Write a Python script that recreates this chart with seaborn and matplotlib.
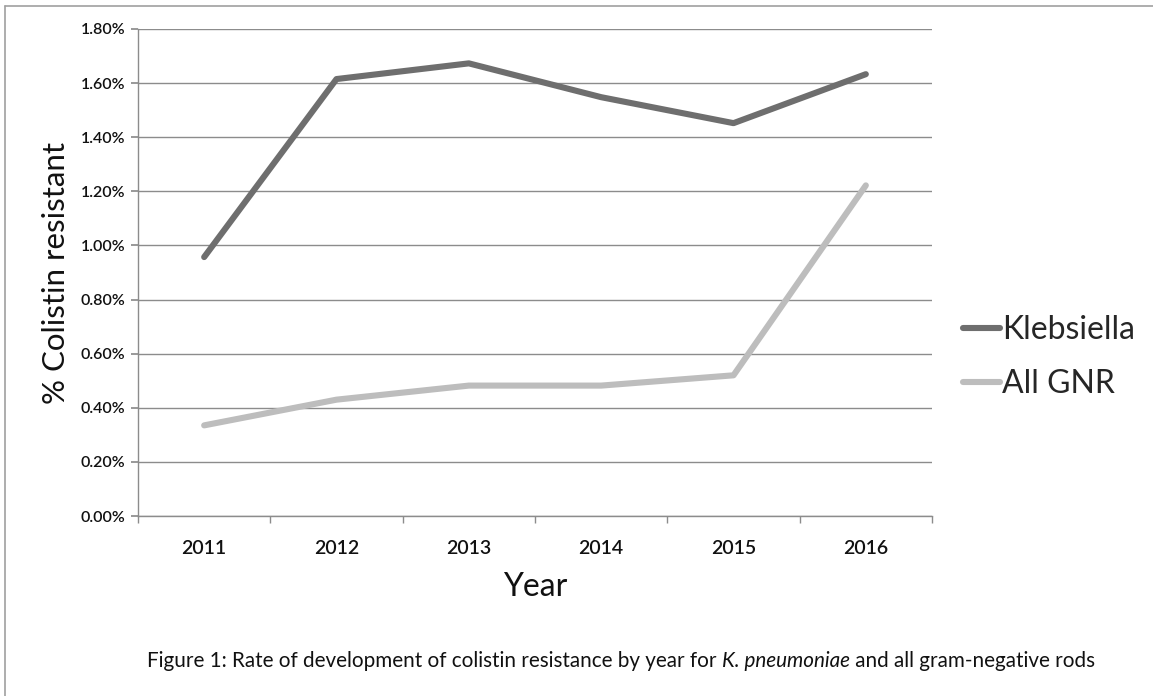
import matplotlib
matplotlib.use("Agg")
import matplotlib.pyplot as plt
import matplotlib.ticker as mticker
from matplotlib.lines import Line2D
import seaborn as sns
import pandas as pd

years = ["2011", "2012", "2013", "2014", "2015", "2016"]
klebsiella = [0.00957, 0.01615, 0.01673, 0.01548, 0.01452, 0.01633]
all_gnr = [0.00335, 0.00430, 0.00482, 0.00482, 0.00520, 0.01222]
series_names = ["Klebsiella", "All GNR"]
colors = {"Klebsiella": "#6e6e6e", "All GNR": "#bdbdbd"}
caption_parts = ["Figure 1: Rate of development of colistin resistance by year for ",
                 "K. pneumoniae", " and all gram-negative rods"]

df = pd.DataFrame({
    "Year": years * 2,
    "value": klebsiella + all_gnr,
    "series": [series_names[0]] * len(years) + [series_names[1]] * len(years),
})

sns.set_theme(style="white")
plt.rcParams["font.family"] = ["Lato", "DejaVu Sans"]

fig = plt.figure(figsize=(11.53, 6.96), dpi=100)
ax = fig.add_axes([138 / 1153, 1 - 516 / 696, (932 - 138) / 1153, (516 - 29) / 696])

sns.lineplot(data=df, x="Year", y="value", hue="series", palette=colors,
             linewidth=4.4, ax=ax, legend=False, sort=False)
for ln in ax.lines:
    ln.set_solid_capstyle("round")
    ln.set_solid_joinstyle("round")

ax.set_xlim(-0.5, len(years) - 0.5)
ax.set_ylim(0, 0.018)
ax.set_yticks([i * 0.002 for i in range(10)])
ax.yaxis.set_major_formatter(mticker.FuncFormatter(lambda v, p: f"{v*100:.2f}%"))
ax.set_xticks(range(len(years)))
ax.set_xticklabels(years)
ax.set_xticks([i - 0.5 for i in range(len(years) + 1)], minor=True)

ax.grid(axis="y", color="#8c8c8c", linewidth=1.0)
ax.set_axisbelow(True)
for s in ["top", "right"]:
    ax.spines[s].set_visible(False)
for s in ["left", "bottom"]:
    ax.spines[s].set_color("#8c8c8c")
    ax.spines[s].set_linewidth(1.0)

ax.tick_params(axis="y", which="major", left=True, length=5, color="#8c8c8c",
               labelsize=11.5, pad=4, labelcolor="#111111")
ax.tick_params(axis="x", which="major", bottom=False, labelsize=14, pad=11,
               labelcolor="#111111")
ax.tick_params(axis="x", which="minor", bottom=True, length=5, color="#8c8c8c")
for lab in ax.get_xticklabels() + ax.get_yticklabels():
    lab.set_fontweight("semibold")

ax.set_xlabel("Year", fontsize=23, labelpad=11, color="#111111")
ax.set_ylabel("% Colistin resistant", fontsize=22.5, labelpad=8, color="#111111")

handles = [Line2D([0], [0], color=colors[n], lw=4.4, solid_capstyle="round") for n in series_names]
fig.legend(handles, series_names, loc="center left", bbox_to_anchor=(950 / 1153, 1 - 357 / 696),
           frameon=False, fontsize=23, handlelength=1.15, handletextpad=0.08,
           labelspacing=0.75, borderaxespad=0)

# caption with italic species name
renderer = fig.canvas.get_renderer()
x0 = 147
styles = ["normal", "italic", "normal"]
for part, st in zip(caption_parts, styles):
    t = fig.text(x0 / 1153, 1 - 661 / 696, part, fontsize=14.85, fontstyle=st,
                 color="#111111", va="center", ha="left")
    bb = t.get_window_extent(renderer=renderer)
    x0 = bb.x1

# frame lines (top and left)
fig.add_artist(Line2D([5 / 1153, 1], [1 - 6 / 696, 1 - 6 / 696], color="#a0a0a0", lw=1.2, transform=fig.transFigure))
fig.add_artist(Line2D([5 / 1153, 5 / 1153], [0, 1 - 6 / 696], color="#a0a0a0", lw=1.2, transform=fig.transFigure))

fig.savefig("out.png", dpi=100)
